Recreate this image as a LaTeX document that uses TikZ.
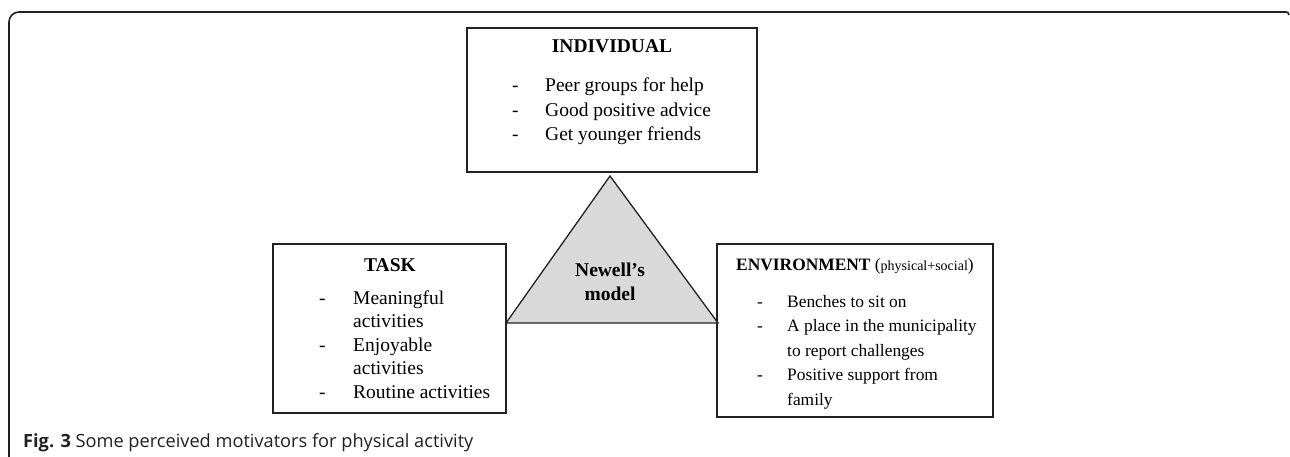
\documentclass[tikz,border=0pt]{standalone}
\usepackage{fontspec}
\setmainfont{Liberation Serif}
\newfontfamily\capfont{Open Sans}
\usepackage{xcolor}
\usepackage{tikz}
\usetikzlibrary{positioning}
\definecolor{linecolour}{rgb}{0.13,0.13,0.13}
\definecolor{trianglebg}{rgb}{0.85,0.85,0.85}

\begin{document}
\begin{tikzpicture}[x=1pt, y=-1pt,
    box/.style={rectangle, draw=linecolour, line width=1.3pt, inner sep=0pt},
    head/.style={anchor=base, inner sep=0pt, font=\fontsize{19.5}{24.5}\selectfont\bfseries},
    list/.style={anchor=base west, inner sep=0pt, font=\fontsize{19.5}{24.5}\selectfont}
]
\useasboundingbox (0,0) rectangle (1290,457);

% outer frame
\draw[linecolour, line width=1.6pt, rounded corners=10pt] (9,457) -- (9,12) -- (1286,12);
\draw[linecolour, line width=1.6pt] (1285,12) .. controls (1288,12) .. (1289,15);

% the three boxes
\node[box, minimum width=290pt, minimum height=144pt] (indiv) at (612,100) {};
\node[box, minimum width=233pt, minimum height=169pt] (task) at (389.5,328.5) {};
\node[box, minimum width=276pt, minimum height=173pt] (env) at (855,330.5) {};

% Newell's triangle
\coordinate (apex) at (610,176);
\coordinate (baseL) at (506,323);
\coordinate (baseR) at (718,323);
\draw[linecolour, line width=1.3pt, fill=trianglebg, line join=miter] (baseL) -- (apex) -- (baseR) -- cycle;
\node[head] (newell) at (610,276) {\begin{tabular}[t]{@{}c@{}}Newell’s\\model\end{tabular}};

% headings
\node[head] (indivhead) at (612,53) {INDIVIDUAL};
\node[head] (taskhead) at (390,271) {TASK};
\node[head, anchor=base west, font=\fontsize{17.4}{22}\selectfont\bfseries] (envhead) at (736,270) {ENVIRONMENT {\mdseries(\fontsize{14}{17}\selectfont physical+social\fontsize{17.4}{22}\selectfont)}};

% lists
\node[list] (indivlist) at (512,92) {\begin{tabular}[t]{@{}p{33pt}@{}l@{}}
-&Peer groups for help\\
-&Good positive advice\\
-&Get younger friends
\end{tabular}};
\node[list, font=\fontsize{19.5}{23.5}\selectfont] (tasklist) at (319,304) {\begin{tabular}[t]{@{}p{34pt}@{}l@{}}
-&Meaningful\\
&activities\\
-&Enjoyable\\
&activities\\
-&Routine activities
\end{tabular}};
\node[list, font=\fontsize{17.4}{24.5}\selectfont] (envlist) at (757,307) {\begin{tabular}[t]{@{}p{30pt}@{}l@{}}
-&Benches to sit on\\
-&A place in the municipality\\
&to report challenges\\
-&Positive support from\\
&family
\end{tabular}};

% caption
\node[anchor=base west, inner sep=0pt, font=\capfont\fontsize{18.2}{22}\selectfont, text=linecolour] (caption) at (23,447) {\textbf{Fig. 3} Some perceived motivators for physical activity};

\end{tikzpicture}
\end{document}
